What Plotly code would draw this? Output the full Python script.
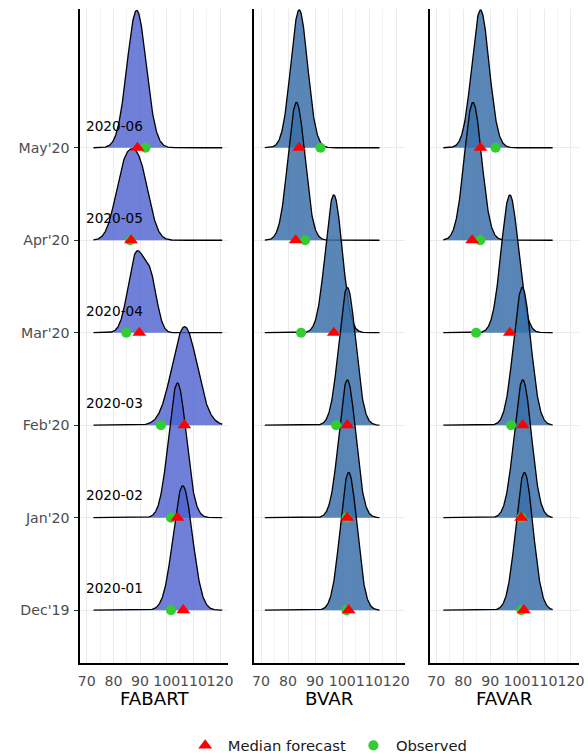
import numpy as np
import plotly.graph_objects as go

# ---------------- data ----------------
months = ["Dec'19", "Jan'20", "Feb'20", "Mar'20", "Apr'20", "May'20"]
row_labels = ["2020-01", "2020-02", "2020-03", "2020-04", "2020-05", "2020-06"]
models = ["FABART", "BVAR", "FAVAR"]
x_tick_vals = [70, 80, 90, 100, 110, 120]
x_tick_text = ["70", "80", "90", "100", "110", "120"]
x_minor_vals = [75, 85, 95, 105, 115]

observed = [101.6, 101.6, 97.8, 84.8, 86.3, 92.0]

median_fabart = [106.2, 104.0, 106.6, 89.7, 86.6, 89.0]
median_bvar = [102.4, 101.9, 101.9, 96.9, 82.8, 84.1]
median_favar = [102.5, 101.5, 102.1, 97.3, 83.3, 86.4]

# density shape of each month: components (mode, spread, weight); peak height in row units
dens_fabart = [[(106.0, 3.6, 1.0)],
               [(104.0, 3.3, 1.0)],
               [(106.7, 4.7, 1.0)],
               [(88.5, 3.0, 1.0), (94.0, 2.4, 0.62)],
               [(84.0, 3.5, 1.0), (90.0, 3.5, 1.0)],
               [(88.7, 3.6, 1.0)]]
peak_fabart = [1.345, 1.456, 1.065, 0.887, 0.99, 1.485]

dens_bvar = [[(102.4, 3.1, 1.0)], [(101.9, 3.1, 1.0)], [(101.9, 3.1, 1.0)],
             [(96.9, 3.1, 1.0)], [(83.1, 3.1, 1.0)], [(84.1, 3.1, 1.0)]]
peak_bvar = [1.49, 1.49, 1.49, 1.49, 1.49, 1.49]

dens_favar = [[(102.7, 3.2, 1.0)], [(102.1, 3.2, 1.0)], [(101.9, 3.2, 1.0)],
              [(97.3, 3.2, 1.0)], [(83.6, 3.2, 1.0)], [(86.4, 3.2, 1.0)]]
peak_favar = [1.49, 1.49, 1.49, 1.49, 1.49, 1.49]

support = {"FABART": (72.5, 120.8), "BVAR": (71.4, 113.8), "FAVAR": (72.6, 113.2)}

medians = {"FABART": median_fabart, "BVAR": median_bvar, "FAVAR": median_favar}
densities = {"FABART": dens_fabart, "BVAR": dens_bvar, "FAVAR": dens_favar}
peaks = {"FABART": peak_fabart, "BVAR": peak_bvar, "FAVAR": peak_favar}
fills = {"FABART": "rgba(76,96,206,0.80)", "BVAR": "rgba(57,110,168,0.83)",
         "FAVAR": "rgba(57,110,168,0.83)"}

# ---------------- layout geometry ----------------
S = 1.011                      # compensates the slight down-scaling of the page
W0, H0 = 588, 754
W, H = W0 * S, H0 * S
x_domains_px = [(78.3, 226.7), (252.7, 403.3), (428.3, 578.3)]
y_top_px, y_bot_px = 9, 662
FONT = "DejaVu Sans"

fig = go.Figure()

for k, model in enumerate(models):
    xa = "x" if k == 0 else f"x{k+1}"
    ya = "y" if k == 0 else f"y{k+1}"
    lo, hi = support[model]
    xs = np.linspace(lo, hi, 400)
    for i in reversed(range(len(months))):
        comps = densities[model][i]
        f = np.zeros_like(xs)
        for mu, sd, w in comps:
            f = f + w * np.exp(-0.5 * ((xs - mu) / sd) ** 2)
        f = f / f.max() * peaks[model][i]
        base = i + 1
        ytop = base + f
        fig.add_trace(go.Scatter(
            x=np.concatenate([xs, xs[::-1]]),
            y=np.concatenate([ytop, np.full_like(xs, base)]),
            fill="toself", fillcolor=fills[model], mode="lines",
            line=dict(width=0), hoverinfo="skip", showlegend=False,
            xaxis=xa, yaxis=ya))
        fig.add_trace(go.Scatter(
            x=xs, y=ytop, mode="lines", line=dict(color="black", width=1.3 * S),
            hoverinfo="skip", showlegend=False, xaxis=xa, yaxis=ya))
    yrows = list(range(1, len(months) + 1))
    fig.add_trace(go.Scatter(
        x=observed, y=yrows, mode="markers", name="Observed",
        marker=dict(symbol="circle", size=10 * S, color="#32CD32"),
        showlegend=(k == 0), legendgroup="obs", legendrank=2,
        xaxis=xa, yaxis=ya))
    fig.add_trace(go.Scatter(
        x=medians[model], y=yrows, mode="markers", name="Median forecast",
        marker=dict(symbol="triangle-up", size=12 * S, color="#FF0000"),
        showlegend=(k == 0), legendgroup="med", legendrank=1,
        xaxis=xa, yaxis=ya))

ydom = [(H0 - y_bot_px) / H0, (H0 - y_top_px) / H0]
layout = dict(
    width=W, height=H, margin=dict(l=0, r=0, t=0, b=0),
    paper_bgcolor="white", plot_bgcolor="white",
    font=dict(family=FONT, color="#4D4D4D"),
    legend=dict(orientation="h", x=181 / W0, xanchor="left", y=(H0 - 745) / H0,
                yanchor="middle", itemwidth=35,
                font=dict(family=FONT, size=14.6 * S, color="#1A1A1A"),
                bgcolor="rgba(0,0,0,0)"),
)
annotations = []
for k, model in enumerate(models):
    sfx = "" if k == 0 else str(k + 1)
    d0, d1 = x_domains_px[k]
    layout["xaxis" + sfx] = dict(
        domain=[d0 / W0, d1 / W0], range=[67.5, 123.1], anchor="y" + sfx,
        tickmode="array", tickvals=x_tick_vals, ticktext=x_tick_text, tickangle=0,
        ticks="", ticklabelstandoff=4,
        showgrid=True, gridcolor="#EBEBEB", gridwidth=1,
        minor=dict(tickmode="array", tickvals=x_minor_vals, showgrid=True,
                   gridcolor="#F3F3F3", gridwidth=0.7, ticks=""),
        showline=True, linecolor="black", linewidth=1.5 * S, zeroline=False,
        tickfont=dict(family=FONT, size=14 * S, color="#4D4D4D"))
    layout["yaxis" + sfx] = dict(
        domain=ydom, range=[0.43, 7.5], anchor="x" + sfx,
        tickmode="array", tickvals=list(range(1, len(months) + 1)), ticktext=months,
        showticklabels=(k == 0), ticks="outside" if k == 0 else "", ticklen=4,
        tickcolor="#333333", tickwidth=1, ticklabelstandoff=2,
        showgrid=True, gridcolor="#EBEBEB", gridwidth=1,
        showline=True, linecolor="black", linewidth=1.5 * S, zeroline=False,
        tickfont=dict(family=FONT, size=14 * S, color="#4D4D4D"))
    annotations.append(dict(
        text=model, xref="paper", yref="paper", x=(d0 + d1) / 2 / W0,
        y=(H0 - 697.7) / H0, xanchor="center", yanchor="middle", showarrow=False,
        font=dict(family=FONT, size=18 * S, color="black")))

for i, lab in enumerate(row_labels):
    annotations.append(dict(
        text=lab, xref="x", yref="y", x=69.0, y=i + 1 + 0.24, xanchor="left",
        yanchor="middle", showarrow=False,
        font=dict(family=FONT, size=13.5 * S, color="black")))

layout["annotations"] = annotations
fig.update_layout(**layout)
fig.write_html("out.html", config={"displayModeBar": False},
               post_script="document.body.style.margin='0px';"
                           "document.body.style.overflow='hidden';"
                           "document.documentElement.style.overflow='hidden';")
